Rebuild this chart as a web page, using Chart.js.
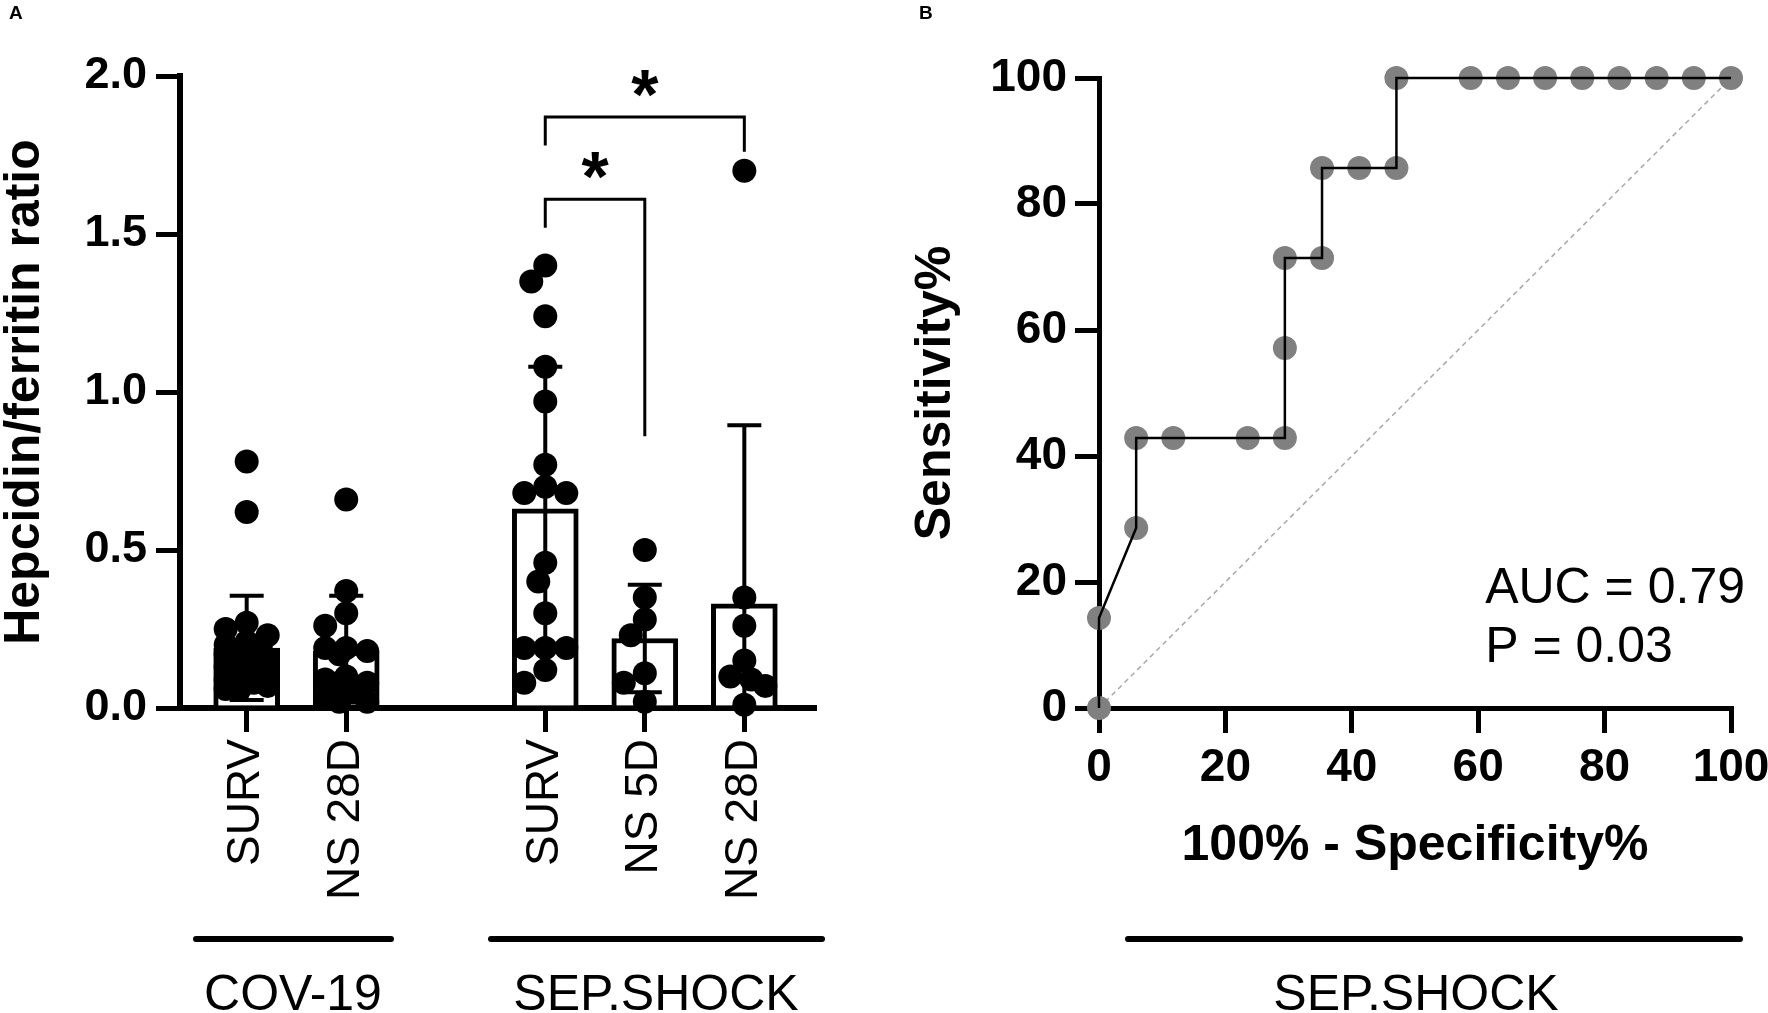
<!DOCTYPE html>
<html>
<head>
<meta charset="utf-8">
<script src="https://cdn.jsdelivr.net/npm/chart.js@4.4.1/dist/chart.umd.min.js"></script>
<style>
  html, body { margin: 0; padding: 0; background: #fff; width: 1768px; height: 1013px; overflow: hidden; }
  #wrap { position: relative; width: 1768px; height: 1013px; overflow: hidden; }
  canvas { position: absolute; top: 0; }
  #chartA { left: 0; }
  #chartB { left: 880px; }
  .lbl { position: absolute; font-family: 'Liberation Sans', Arial, sans-serif; color: #000; line-height: 1; white-space: nowrap; }
  .panel { font-weight: bold; font-size: 19px; }
  .group { font-size: 50px; width: 400px; text-align: center; }
  .rule { position: absolute; height: 6px; background: #000; border-radius: 3px; }
</style>
</head>
<body>
<div id="wrap">
  <canvas id="chartA" width="880" height="1013"></canvas>
  <canvas id="chartB" width="900" height="1013"></canvas>
  <div class="lbl panel" style="left:9px; top:3px;">A</div>
  <div class="lbl panel" style="left:919px; top:3px;">B</div>
  <div class="rule" style="left:193px; top:936px; width:201px;"></div>
  <div class="rule" style="left:488px; top:936px; width:337px;"></div>
  <div class="rule" style="left:1125px; top:936px; width:618px;"></div>
  <div class="lbl group" style="left:93px; top:968px;">COV-19</div>
  <div class="lbl group" style="left:456px; top:968px;">SEP.SHOCK</div>
  <div class="lbl group" style="left:1216px; top:968px;">SEP.SHOCK</div>
</div>
<script>
(function () {
  var FONT = "'Liberation Sans', Arial, sans-serif";

  // panel A: hepcidin/ferritin ratio, one column per group
  var catPos = [1, 2, 4, 5, 6];
  var catLabels = ["SURV", "NS 28D", "SURV", "NS 5D", "NS 28D"];
  var covSurv = [0.78, 0.62, 0.27, 0.25, 0.23, 0.21, 0.20, 0.19, 0.18, 0.17, 0.16,
                 0.15, 0.14, 0.13, 0.12, 0.11, 0.10, 0.09, 0.08, 0.07, 0.06, 0.06];
  var covNs28d = [0.66, 0.37, 0.30, 0.26, 0.19, 0.19, 0.18, 0.17, 0.10, 0.09, 0.08,
                  0.08, 0.05, 0.03, 0.02, 0.02];
  var sepSurv = [1.40, 1.35, 1.24, 1.08, 0.97, 0.77, 0.70, 0.68, 0.68, 0.46, 0.40,
                 0.30, 0.19, 0.19, 0.19, 0.12, 0.08];
  var sepNs5d = [0.50, 0.35, 0.28, 0.23, 0.11, 0.08, 0.02];
  var sepNs28d = [1.70, 0.35, 0.26, 0.15, 0.10, 0.09, 0.07, 0.01];
  var groupValues = [covSurv, covNs28d, sepSurv, sepNs5d, sepNs28d];
  var means = [0.19, 0.18, 0.63, 0.22, 0.33];
  var sds = [0.165, 0.175, 0.45, 0.17, 0.565];

  // significance brackets (group position from -> to)
  var sigFrom = [4, 4];
  var sigTo = [5, 6];
  var sigTop = [1.61, 1.87];
  var sigLegFrom = [1.52, 1.78];
  var sigLegTo = [0.86, 1.76];
  var sigMark = ["*", "*"];

  // panel B: ROC curve
  var rocX = [0, 0, 5.88, 5.88, 11.76, 23.53, 29.41, 29.41, 29.41, 35.29, 35.29,
              41.18, 47.06, 47.06, 58.82, 64.71, 70.59, 76.47, 82.35, 88.24, 94.12, 100];
  var rocY = [0, 14.29, 28.57, 42.86, 42.86, 42.86, 42.86, 57.14, 71.43, 71.43, 85.71,
              85.71, 85.71, 100, 100, 100, 100, 100, 100, 100, 100, 100];
  var diagX = [0, 100];
  var diagY = [0, 100];
  var rocNotes = ["AUC = 0.79", "P = 0.03"];
  var rocNoteAt = { x: 61.1, y: 16.7 };

  Chart.defaults.font.family = FONT;
  Chart.defaults.color = "#000";

  // rough pixel size of one unit on panel A, used to spread dots sideways
  var PX_PER_X = 99.5, PX_PER_Y = 316;
  var OFFSETS = [0, -7, 7, -14, 14, -21, 21];
  var MIN_GAP = 20;

  function swarm(values, center) {
    var placed = [];
    var out = [];
    var sorted = values.slice().sort(function (a, b) { return b - a; });
    sorted.forEach(function (v) {
      var py = v * PX_PER_Y;
      var best = 0, bestGap = -1;
      for (var k = 0; k < OFFSETS.length; k++) {
        var dx = OFFSETS[k];
        var gap = Infinity;
        for (var j = 0; j < placed.length; j++) {
          var d = Math.hypot(placed[j].dx - dx, placed[j].py - py);
          if (d < gap) gap = d;
        }
        if (gap >= MIN_GAP) { best = dx; break; }
        if (gap > bestGap) { bestGap = gap; best = dx; }
      }
      placed.push({ dx: best, py: py });
      out.push({ x: center + best / PX_PER_X, y: v });
    });
    return out;
  }

  var dots = [];
  for (var g = 0; g < groupValues.length; g++) {
    dots = dots.concat(swarm(groupValues[g], catPos[g]));
  }

  var bracketSets = [];
  for (var b = 0; b < sigFrom.length; b++) {
    bracketSets.push({
      type: "line",
      data: [
        { x: sigFrom[b], y: sigLegFrom[b] },
        { x: sigFrom[b], y: sigTop[b] },
        { x: sigTo[b], y: sigTop[b] },
        { x: sigTo[b], y: sigLegTo[b] },
      ],
      borderColor: "#000",
      borderWidth: 3,
      pointRadius: 0,
      fill: false,
      tension: 0,
      clip: false,
      order: 2,
    });
  }

  var errorBars = {
    id: "errorBars",
    afterDatasetDraw: function (chart, args) {
      if (args.index !== 0) return;
      var ctx = chart.ctx, xs = chart.scales.x, ys = chart.scales.y;
      ctx.save();
      ctx.strokeStyle = "#000";
      ctx.lineWidth = 4;
      for (var i = 0; i < means.length; i++) {
        var px = xs.getPixelForValue(catPos[i]);
        var hi = means[i] + sds[i], lo = means[i] - sds[i];
        var yHi = ys.getPixelForValue(hi);
        var yLo = ys.getPixelForValue(Math.max(lo, 0));
        ctx.beginPath();
        ctx.moveTo(px, yLo);
        ctx.lineTo(px, yHi);
        ctx.moveTo(px - 17, yHi);
        ctx.lineTo(px + 17, yHi);
        if (lo > 0) {
          ctx.moveTo(px - 17, yLo);
          ctx.lineTo(px + 17, yLo);
        }
        ctx.stroke();
      }
      ctx.restore();
    },
  };

  var stars = {
    id: "stars",
    afterDatasetsDraw: function (chart) {
      var ctx = chart.ctx, xs = chart.scales.x, ys = chart.scales.y;
      ctx.save();
      ctx.fillStyle = "#000";
      ctx.font = "bold 70px " + FONT;
      ctx.textAlign = "center";
      ctx.textBaseline = "alphabetic";
      for (var i = 0; i < sigMark.length; i++) {
        var m = ctx.measureText(sigMark[i]);
        var cx = xs.getPixelForValue((sigFrom[i] + sigTo[i]) / 2);
        var cy = ys.getPixelForValue(sigTop[i]) - 34;
        var shift = (m.actualBoundingBoxAscent - m.actualBoundingBoxDescent) / 2;
        ctx.fillText(sigMark[i], cx, cy + shift);
      }
      ctx.restore();
    },
  };

  var notes = {
    id: "notes",
    afterDatasetsDraw: function (chart) {
      var ctx = chart.ctx, xs = chart.scales.x, ys = chart.scales.y;
      ctx.save();
      ctx.fillStyle = "#000";
      ctx.font = "50px " + FONT;
      ctx.textAlign = "left";
      ctx.textBaseline = "alphabetic";
      var x0 = xs.getPixelForValue(rocNoteAt.x);
      var y0 = ys.getPixelForValue(rocNoteAt.y);
      for (var i = 0; i < rocNotes.length; i++) {
        ctx.fillText(rocNotes[i], x0, y0 + i * 59);
      }
      ctx.restore();
    },
  };

  function axisGrid(tickLen) {
    return { drawOnChartArea: false, drawTicks: true, offset: false, tickLength: tickLen, lineWidth: 5, color: "#000" };
  }

  new Chart(document.getElementById("chartA"), {
    type: "bar",
    data: {
      datasets: [
        {
          type: "bar",
          data: catPos.map(function (x, i) { return { x: x, y: means[i] }; }),
          backgroundColor: "#fff",
          borderColor: "#000",
          borderWidth: 5,
          barThickness: 66,
          order: 3,
        },
        {
          type: "scatter",
          data: dots,
          pointRadius: 12,
          pointBackgroundColor: "#000",
          pointBorderWidth: 0,
          clip: false,
          order: 1,
        },
      ].concat(bracketSets),
    },
    options: {
      responsive: false,
      animation: false,
      devicePixelRatio: 1,
      events: [],
      layout: { padding: { left: 0, top: 76, right: 66, bottom: 0 } },
      plugins: { legend: { display: false }, tooltip: { enabled: false } },
      scales: {
        x: {
          type: "linear",
          offset: false,
          min: 0.33,
          max: 6.7,
          afterBuildTicks: function (s) { s.ticks = catPos.map(function (v) { return { value: v }; }); },
          afterFit: function (s) { s.height = 305; },
          grid: axisGrid(24),
          border: { display: true, width: 6, color: "#000" },
          ticks: {
            autoSkip: false,
            minRotation: 90,
            maxRotation: 90,
            padding: 7,
            color: "#000",
            font: { size: 46 },
            callback: function (v, i) { return catLabels[i]; },
          },
        },
        y: {
          min: 0,
          max: 2,
          afterFit: function (s) { s.width = 180; },
          grid: axisGrid(24),
          border: { display: true, width: 6, color: "#000" },
          ticks: {
            stepSize: 0.5,
            padding: 9,
            color: "#000",
            font: { size: 45, weight: "bold" },
            callback: function (v) { return v.toFixed(1); },
          },
          title: {
            display: true,
            text: "Hepcidin/ferritin ratio",
            color: "#000",
            font: { size: 50, weight: "bold", lineHeight: 1 },
            padding: { top: 0, bottom: 0 },
          },
        },
      },
    },
    plugins: [errorBars, stars],
  });

  new Chart(document.getElementById("chartB"), {
    type: "scatter",
    data: {
      datasets: [
        {
          type: "line",
          data: diagX.map(function (x, i) { return { x: x, y: diagY[i] }; }),
          borderColor: "#a8a8a8",
          borderWidth: 1.5,
          borderDash: [5, 4],
          pointRadius: 0,
          fill: false,
          order: 3,
        },
        {
          type: "scatter",
          data: rocX.map(function (x, i) { return { x: x, y: rocY[i] }; }),
          pointRadius: 12,
          pointBackgroundColor: "#808080",
          pointBorderWidth: 0,
          clip: false,
          order: 2,
        },
        {
          type: "line",
          data: rocX.map(function (x, i) { return { x: x, y: rocY[i] }; }),
          borderColor: "#000",
          borderWidth: 2.5,
          pointRadius: 0,
          fill: false,
          tension: 0,
          clip: false,
          order: 1,
        },
      ],
    },
    options: {
      responsive: false,
      animation: false,
      devicePixelRatio: 1,
      events: [],
      layout: { padding: { left: 0, top: 78, right: 49, bottom: 142 } },
      plugins: { legend: { display: false }, tooltip: { enabled: false } },
      scales: {
        x: {
          type: "linear",
          min: 0,
          max: 100,
          afterFit: function (s) { s.height = 163; },
          grid: axisGrid(25),
          border: { display: true, width: 5, color: "#000" },
          ticks: { stepSize: 20, padding: 8, color: "#000", font: { size: 46, weight: "bold" } },
          title: {
            display: true,
            text: "100% - Specificity%",
            color: "#000",
            font: { size: 50, weight: "bold", lineHeight: 1 },
            padding: { top: 0, bottom: 0 },
          },
        },
        y: {
          min: 0,
          max: 100,
          afterFit: function (s) { s.width = 219; },
          grid: axisGrid(24),
          border: { display: true, width: 5, color: "#000" },
          ticks: { stepSize: 20, padding: 8, color: "#000", font: { size: 46, weight: "bold" } },
          title: {
            display: true,
            text: "Sensitivity%",
            color: "#000",
            font: { size: 50, weight: "bold", lineHeight: 1 },
            padding: { top: 31, bottom: 0 },
          },
        },
      },
    },
    plugins: [notes],
  });
})();
</script>
</body>
</html>
